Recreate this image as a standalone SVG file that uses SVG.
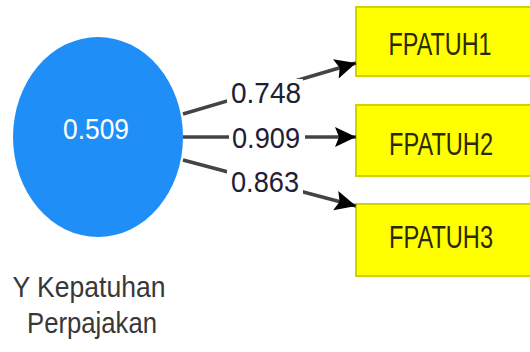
<svg xmlns="http://www.w3.org/2000/svg" width="530" height="352" viewBox="0 0 530 352">
  <style>
    .ind rect { fill: #ffff00; stroke: #d2d200; stroke-width: 2; }
    .ind text { font-family: "Liberation Sans", Arial, sans-serif; font-size: 31px; fill: #2a2a00; text-anchor: middle; }
    .edge { stroke: #444444; stroke-width: 3.5; fill: none; marker-end: url(#arrow); }
    .wlabel rect { fill: #ffffff; }
    .wlabel text { font-family: "Liberation Sans", Arial, sans-serif; font-size: 30px; fill: #1e2033; text-anchor: middle; }
    .cap { font-family: "Liberation Sans", Arial, sans-serif; font-size: 30px; fill: #383838; text-anchor: middle; }
  </style>
  <defs>
    <marker id="arrow" markerUnits="userSpaceOnUse" markerWidth="22" markerHeight="22" viewBox="0 0 22 22" refX="21" refY="11" orient="auto">
      <path d="M0,1 L21,11 L0,21 L4,11 Z" fill="#000"/>
    </marker>
  </defs>
  <rect width="530" height="352" fill="#ffffff"/>

  <!-- latent construct -->
  <g id="y-kepatuhan">
    <ellipse cx="98" cy="137" rx="85" ry="100" fill="#1f8ff7"/>
    <text x="96" y="139" font-family="Liberation Sans, Arial, sans-serif" font-size="30" fill="#ffffff" text-anchor="middle" textLength="66" lengthAdjust="spacingAndGlyphs">0.509</text>
    <text class="cap" x="89" y="297" textLength="153" lengthAdjust="spacingAndGlyphs">Y Kepatuhan</text>
    <text class="cap" x="92" y="333" textLength="130" lengthAdjust="spacingAndGlyphs">Perpajakan</text>
  </g>

  <!-- indicators -->
  <g id="fpatuh1" class="ind">
    <rect x="356" y="7" width="180" height="69"/>
    <text x="440" y="55" textLength="103" lengthAdjust="spacingAndGlyphs">FPATUH1</text>
  </g>
  <g id="fpatuh2" class="ind">
    <rect x="356" y="105" width="180" height="71"/>
    <text x="441" y="155" textLength="104" lengthAdjust="spacingAndGlyphs">FPATUH2</text>
  </g>
  <g id="fpatuh3" class="ind">
    <rect x="356" y="204" width="180" height="72"/>
    <text x="441" y="248" textLength="104" lengthAdjust="spacingAndGlyphs">FPATUH3</text>
  </g>

  <!-- outer loadings -->
  <g id="connectors">
    <line class="edge" x1="183" y1="114" x2="356" y2="63"/>
    <line class="edge" x1="183" y1="137" x2="356" y2="137"/>
    <line class="edge" x1="183" y1="160" x2="356" y2="206"/>
    <g class="wlabel">
      <rect x="227" y="79" width="76" height="26"/>
      <text x="266" y="103" textLength="70" lengthAdjust="spacingAndGlyphs">0.748</text>
    </g>
    <g class="wlabel">
      <rect x="229" y="124" width="76" height="26"/>
      <text x="266" y="148" textLength="68" lengthAdjust="spacingAndGlyphs">0.909</text>
    </g>
    <g class="wlabel">
      <rect x="227" y="168" width="76" height="26"/>
      <text x="265" y="192" textLength="68" lengthAdjust="spacingAndGlyphs">0.863</text>
    </g>
  </g>
</svg>
